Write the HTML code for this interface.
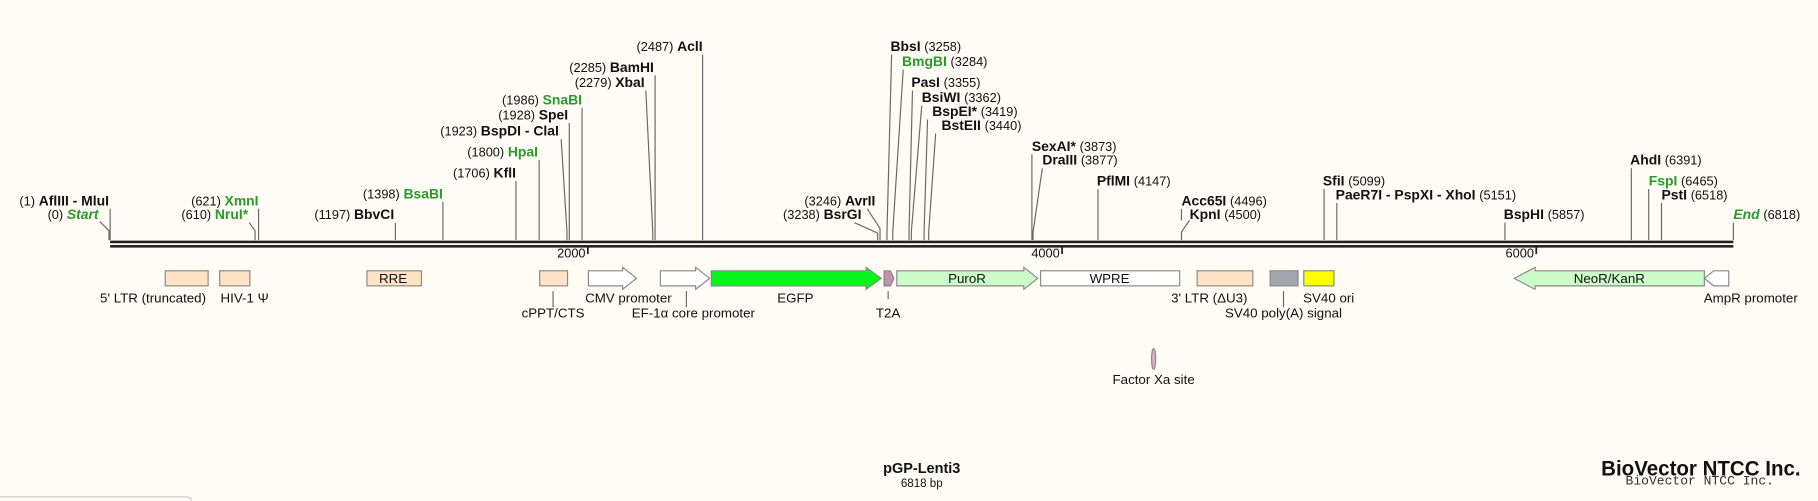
<!DOCTYPE html>
<html><head><meta charset="utf-8"><style>
html,body{margin:0;padding:0;background:#fffcf6;}
svg{display:block}
text{font-family:"Liberation Sans",sans-serif;font-size:11.5px;fill:#111}
.b{font-weight:bold;font-size:12px}
.g{fill:#2a9a2a}
.n{font-size:11px}
line,polyline{stroke:#666;stroke-width:1;fill:none}
</style></head><body>
<svg width="1818" height="501" viewBox="0 0 1568 432" xmlns="http://www.w3.org/2000/svg">
<rect width="1568" height="432" fill="#fffcf6"/>
<path d="M0 428.5 H160 Q165 428.5 165 432" stroke="#ccc" fill="none"/>
<rect x="95" y="207.5" width="1400" height="2.2" fill="#222"/>
<rect x="95" y="211.3" width="1400" height="2.2" fill="#222"/>
<line x1="507" y1="212" x2="507" y2="219" style="stroke:#222;stroke-width:1.5"/>
<line x1="916" y1="212" x2="916" y2="219" style="stroke:#222;stroke-width:1.5"/>
<line x1="1325" y1="212" x2="1325" y2="219" style="stroke:#222;stroke-width:1.5"/>
<text x="505" y="222" text-anchor="end" class="n">2000</text>
<text x="914" y="222" text-anchor="end" class="n">4000</text>
<text x="1323" y="222" text-anchor="end" class="n">6000</text>

<line x1="95" y1="180" x2="95" y2="207"/>
<polyline points="86,191 94,199 94,207"/>
<line x1="223" y1="180" x2="223" y2="207"/>
<polyline points="215,192 220,199 220,207"/>
<line x1="341" y1="192" x2="341" y2="207"/>
<line x1="382" y1="174" x2="382" y2="207"/>
<line x1="445" y1="156" x2="445" y2="207"/>
<line x1="465" y1="138" x2="465" y2="207"/>
<polyline points="484,120 489,200 489,207"/>
<line x1="491" y1="106" x2="491" y2="207"/>
<line x1="502" y1="93" x2="502" y2="207"/>
<line x1="565" y1="65" x2="565" y2="207"/>
<polyline points="557,78 563,200 563,207"/>
<line x1="606" y1="47" x2="606" y2="207"/>
<polyline points="748,180 759,197 759,207"/>
<polyline points="737,192 757,201 757,207"/>
<polyline points="769,47 765,200 765,207"/>
<polyline points="779,60 770,200 770,207"/>
<polyline points="787,78 784,200 784,207"/>
<polyline points="795,91 786,200 786,207"/>
<polyline points="800,103 797,200 797,207"/>
<polyline points="807,115 801,200 801,207"/>
<line x1="890" y1="133" x2="890" y2="207"/>
<polyline points="899,145 891,200 891,207"/>
<line x1="947" y1="163" x2="947" y2="207"/>
<polyline points="1026,190 1019,200 1019,207"/>
<line x1="1019" y1="180" x2="1019" y2="190"/>
<line x1="1142" y1="163" x2="1142" y2="207"/>
<line x1="1153" y1="175" x2="1153" y2="207"/>
<line x1="1298" y1="192" x2="1298" y2="207"/>
<line x1="1407" y1="145" x2="1407" y2="207"/>
<line x1="1422" y1="163" x2="1422" y2="207"/>
<line x1="1433" y1="175" x2="1433" y2="207"/>
<line x1="1495" y1="192" x2="1495" y2="207"/>

<text x="94" y="177" text-anchor="end"><tspan class="n">(1)</tspan>  <tspan class="b">AflIII - MluI</tspan></text>
<text x="85" y="189" text-anchor="end"><tspan class="n">(0)</tspan>  <tspan class="b g" font-style="italic">Start</tspan></text>
<text x="223" y="177" text-anchor="end"><tspan class="n">(621)</tspan>  <tspan class="b g">XmnI</tspan></text>
<text x="214" y="189" text-anchor="end"><tspan class="n">(610)</tspan>  <tspan class="b g">NruI*</tspan></text>
<text x="340" y="189" text-anchor="end"><tspan class="n">(1197)</tspan>  <tspan class="b">BbvCI</tspan></text>
<text x="382" y="171" text-anchor="end"><tspan class="n">(1398)</tspan>  <tspan class="b g">BsaBI</tspan></text>
<text x="445" y="153" text-anchor="end"><tspan class="n">(1706)</tspan>  <tspan class="b">KflI</tspan></text>
<text x="464" y="135" text-anchor="end"><tspan class="n">(1800)</tspan>  <tspan class="b g">HpaI</tspan></text>
<text x="482" y="117" text-anchor="end"><tspan class="n">(1923)</tspan>  <tspan class="b">BspDI - ClaI</tspan></text>
<text x="490" y="103" text-anchor="end"><tspan class="n">(1928)</tspan>  <tspan class="b">SpeI</tspan></text>
<text x="502" y="90" text-anchor="end"><tspan class="n">(1986)</tspan>  <tspan class="b g">SnaBI</tspan></text>
<text x="564" y="62" text-anchor="end"><tspan class="n">(2285)</tspan>  <tspan class="b">BamHI</tspan></text>
<text x="556" y="75" text-anchor="end"><tspan class="n">(2279)</tspan>  <tspan class="b">XbaI</tspan></text>
<text x="606" y="44" text-anchor="end"><tspan class="n">(2487)</tspan>  <tspan class="b">AclI</tspan></text>
<text x="755" y="177" text-anchor="end"><tspan class="n">(3246)</tspan>  <tspan class="b">AvrII</tspan></text>
<text x="743" y="189" text-anchor="end"><tspan class="n">(3238)</tspan>  <tspan class="b">BsrGI</tspan></text>

<text x="768" y="44"><tspan class="b">BbsI</tspan>  <tspan class="n">(3258)</tspan></text>
<text x="778" y="57"><tspan class="b g">BmgBI</tspan>  <tspan class="n">(3284)</tspan></text>
<text x="786" y="75"><tspan class="b">PasI</tspan>  <tspan class="n">(3355)</tspan></text>
<text x="795" y="88"><tspan class="b">BsiWI</tspan>  <tspan class="n">(3362)</tspan></text>
<text x="804" y="100"><tspan class="b">BspEI*</tspan>  <tspan class="n">(3419)</tspan></text>
<text x="812" y="112"><tspan class="b">BstEII</tspan>  <tspan class="n">(3440)</tspan></text>
<text x="890" y="130"><tspan class="b">SexAI*</tspan>  <tspan class="n">(3873)</tspan></text>
<text x="899" y="142"><tspan class="b">DraIII</tspan>  <tspan class="n">(3877)</tspan></text>
<text x="946" y="160"><tspan class="b">PflMI</tspan>  <tspan class="n">(4147)</tspan></text>
<text x="1019" y="177"><tspan class="b">Acc65I</tspan>  <tspan class="n">(4496)</tspan></text>
<text x="1026" y="189"><tspan class="b">KpnI</tspan>  <tspan class="n">(4500)</tspan></text>
<text x="1141" y="160"><tspan class="b">SfiI</tspan>  <tspan class="n">(5099)</tspan></text>
<text x="1152" y="172"><tspan class="b">PaeR7I - PspXI - XhoI</tspan>  <tspan class="n">(5151)</tspan></text>
<text x="1297" y="189"><tspan class="b">BspHI</tspan>  <tspan class="n">(5857)</tspan></text>
<text x="1406" y="142"><tspan class="b">AhdI</tspan>  <tspan class="n">(6391)</tspan></text>
<text x="1422" y="160"><tspan class="b g">FspI</tspan>  <tspan class="n">(6465)</tspan></text>
<text x="1433" y="172"><tspan class="b">PstI</tspan>  <tspan class="n">(6518)</tspan></text>
<text x="1495" y="189"><tspan class="b g" font-style="italic">End</tspan>  <tspan class="n">(6818)</tspan></text>

<g stroke="#888" stroke-width="1">
<rect x="142.5" y="233.5" width="37" height="13" fill="#fee3c4"/>
<rect x="189.5" y="233.5" width="26" height="13" fill="#fee3c4"/>
<rect x="316.5" y="233.5" width="47" height="13" fill="#fee3c4"/>
<rect x="465.5" y="233.5" width="24" height="13" fill="#fee3c4"/>
<polygon points="507.5,233.5 537,233.5 537,230.5 549,240 537,249.5 537,246.5 507.5,246.5" fill="#fff"/>
<polygon points="569.5,233.5 600,233.5 600,230.5 612,240 600,249.5 600,246.5 569.5,246.5" fill="#fff"/>
<polygon points="613.5,233.5 747,233.5 747,230.5 760,240 747,249.5 747,246.5 613.5,246.5" fill="#06f51a"/>
<polygon points="762.5,233.5 768,233.5 771,240 768,246.5 762.5,246.5" fill="#c58fb2"/>
<polygon points="773.5,233.5 883,233.5 883,230.5 895,240 883,249.5 883,246.5 773.5,246.5" fill="#ccfcc9"/>
<rect x="897.5" y="233.5" width="120" height="13" fill="#fff"/>
<rect x="1032.5" y="233.5" width="48" height="13" fill="#fee3c4"/>
<rect x="1095.5" y="233.5" width="24" height="13" fill="#a3a7ad"/>
<rect x="1124.5" y="233.5" width="26" height="13" fill="#ffff00"/>
<polygon points="1470,233.5 1324,233.5 1324,230.5 1306,240 1324,249.5 1324,246.5 1470,246.5" fill="#ccfcc9"/>
<polygon points="1491,233.5 1478,233.5 1470,240 1478,246.5 1491,246.5" fill="#fff"/>
<ellipse cx="995" cy="309.5" rx="1.8" ry="9" fill="#d8b0c8"/>
</g>
<line x1="477" y1="251" x2="477" y2="265"/>
<line x1="592" y1="251" x2="592" y2="265"/>
<line x1="766" y1="251" x2="766" y2="258"/>
<line x1="1107" y1="251" x2="1107" y2="265"/>
<text x="339" y="244" text-anchor="middle">RRE</text>
<text x="686" y="261" text-anchor="middle">EGFP</text>
<text x="834" y="244" text-anchor="middle">PuroR</text>
<text x="957" y="244" text-anchor="middle">WPRE</text>
<text x="1388" y="244" text-anchor="middle">NeoR/KanR</text>
<text x="132" y="261" text-anchor="middle">5' LTR (truncated)</text>
<text x="211" y="261" text-anchor="middle">HIV-1 Ψ</text>
<text x="542" y="261" text-anchor="middle">CMV promoter</text>
<text x="1043" y="261" text-anchor="middle">3' LTR (ΔU3)</text>
<text x="1146" y="261" text-anchor="middle">SV40 ori</text>
<text x="1510" y="261" text-anchor="middle">AmpR promoter</text>
<text x="477" y="274" text-anchor="middle">cPPT/CTS</text>
<text x="598" y="274" text-anchor="middle">EF-1α core promoter</text>
<text x="766" y="274" text-anchor="middle">T2A</text>
<text x="1107" y="274" text-anchor="middle">SV40 poly(A) signal</text>
<text x="995" y="331" text-anchor="middle">Factor Xa site</text>

<text x="795" y="408" text-anchor="middle" style="font-weight:bold;font-size:12.5px">pGP-Lenti3</text>
<text x="795" y="420" text-anchor="middle" style="font-size:10px">6818 bp</text>
<text x="1402" y="418" style="font-family:'Liberation Mono',monospace;font-size:11px;fill:#333" textLength="128" lengthAdjust="spacingAndGlyphs">BioVector NTCC Inc.</text>
<text x="1381" y="410" style="font-weight:bold;font-size:18px" textLength="172" lengthAdjust="spacingAndGlyphs">BioVector NTCC Inc.</text>
</svg>
</body></html>
